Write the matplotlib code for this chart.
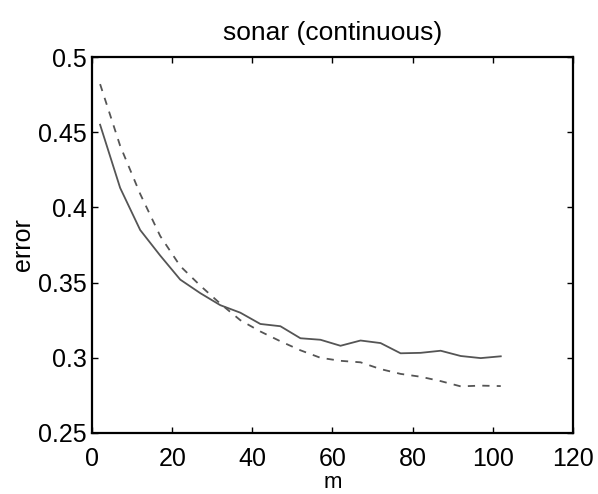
import matplotlib
matplotlib.use("Agg")
from matplotlib import pyplot as plt

plt.rcParams['font.family'] = ['Liberation Sans', 'DejaVu Sans']

m = [2, 7, 12, 17, 22, 27, 32, 37, 42, 47, 52, 57, 62, 67, 72, 77, 82, 87, 92, 97, 102]

# сплошная линия
err_solid = [0.455, 0.413, 0.385, 0.368, 0.352, 0.343, 0.335, 0.330, 0.3225, 0.321, 0.313,
             0.312, 0.308, 0.3115, 0.3098, 0.303, 0.3033, 0.3047, 0.3012, 0.2998, 0.301]

# пунктир
err_dashed = [0.482, 0.441, 0.409, 0.381, 0.361, 0.348, 0.336, 0.325, 0.3175, 0.311, 0.305,
              0.300, 0.298, 0.297, 0.2925, 0.2893, 0.2874, 0.2845, 0.281, 0.2815, 0.2812]

x_ticks = [0, 20, 40, 60, 80, 100, 120]
y_ticks = [0.25, 0.3, 0.35, 0.4, 0.45, 0.5]
y_labels = ["0.25", "0.3", "0.35", "0.4", "0.45", "0.5"]

fig = plt.figure(figsize=(5.98, 4.94), dpi=100)
ax = fig.add_axes([0.154, 0.1235, 0.804, 0.761])

ax.plot(m, err_solid, color="#555555", lw=1.3)
ax.plot(m, err_dashed, color="#555555", lw=1.3, ls=(0, (4, 4)))

ax.axis([0, 120, 0.25, 0.5])
ax.set_xticks(x_ticks)
ax.set_yticks(y_ticks)
ax.set_yticklabels(y_labels)
ax.tick_params(direction="in", length=4, width=1, top=True, right=True, labelsize=18)
ax.tick_params(axis="x", pad=10)
ax.tick_params(axis="y", pad=4)
for s in ax.spines.values():
    s.set_linewidth(1.6)

ax.set_xlabel("m", fontsize=16, labelpad=1)
ax.set_ylabel("error", fontsize=18, labelpad=2)
ax.set_title("sonar (continuous)", fontsize=19, pad=12)

fig.savefig("out.png", dpi=100)
